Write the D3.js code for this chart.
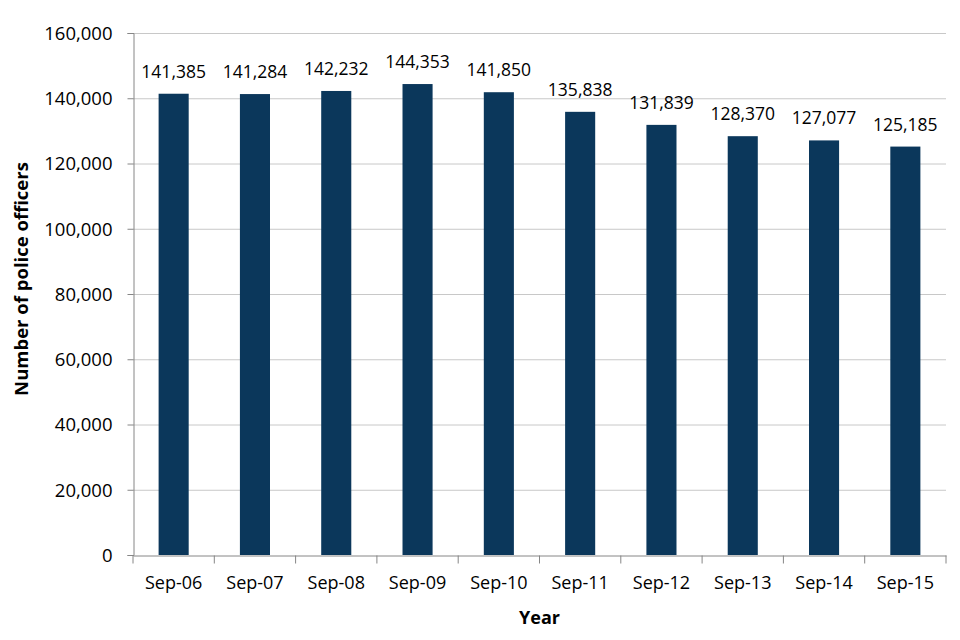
<!DOCTYPE html>
<html>
<head>
<meta charset="utf-8">
<script src="https://cdn.jsdelivr.net/npm/d3@7"></script>
<style>
  body { margin: 0; background: #fff; }
  text { font-family: "Open Sans", "Liberation Sans", sans-serif; fill: #000; }
</style>
</head>
<body>
<svg id="chart" width="960" height="640"></svg>
<script>
const years = ["Sep-06", "Sep-07", "Sep-08", "Sep-09", "Sep-10", "Sep-11", "Sep-12", "Sep-13", "Sep-14", "Sep-15"];
const officers = [141385, 141284, 142232, 144353, 141850, 135838, 131839, 128370, 127077, 125185];
const yTicks = [0, 20000, 40000, 60000, 80000, 100000, 120000, 140000, 160000];

const margin = { top: 33, right: 14, bottom: 85, left: 133 };
const width = 960, height = 640;

const svg = d3.select("svg#chart");
const fmt = d3.format(",");

// SCALES
const xScale = d3.scaleBand()
    .domain(years)
    .range([margin.left, width - margin.right])
    .paddingInner(0.63)
    .paddingOuter(0.315);

const xBound = d3.scaleBand()
    .domain(years)
    .range([margin.left, width - margin.right]);

const yScale = d3.scaleLinear()
    .domain([0, 160000])
    .range([height - margin.bottom, margin.top]);

// GRID
svg.append("g")
    .selectAll("line")
    .data(yTicks.slice(1))
    .join("line")
    .attr("x1", margin.left)
    .attr("x2", width - margin.right)
    .attr("y1", d => yScale(d) + 0.5)
    .attr("y2", d => yScale(d) + 0.5)
    .attr("stroke", "#c8c8c8");

// BARS
svg.append("g").attr("fill", "#0b375b")
    .selectAll("rect")
    .data(officers)
    .join("rect")
    .attr("x", (d, i) => xScale(years[i]))
    .attr("y", d => yScale(d))
    .attr("width", xScale.bandwidth())
    .attr("height", d => yScale(0) - yScale(d));

// DATA LABELS
svg.append("g")
    .selectAll("text")
    .data(officers)
    .join("text")
    .attr("x", (d, i) => xScale(years[i]) + xScale.bandwidth() / 2)
    .attr("y", d => yScale(d) - 16)
    .attr("text-anchor", "middle")
    .attr("font-size", 17.5)
    .text(d => fmt(d));

// AXES
const yAxis = svg.append("g")
    .attr("transform", `translate(${margin.left + 0.5},0)`)
    .call(d3.axisLeft(yScale).tickValues(yTicks).tickFormat(fmt).tickSize(6).tickPadding(15));
yAxis.selectAll("text").attr("font-size", 18.5).attr("dy", "0.35em");

const xAxis = svg.append("g")
    .attr("transform", `translate(0,${height - margin.bottom + 0.5})`)
    .call(d3.axisBottom(xBound).tickSize(0).tickPadding(21));
xAxis.selectAll("text").attr("font-size", 18);
xAxis.selectAll(".tick").append("line")
    .attr("x1", -xBound.bandwidth() / 2).attr("x2", -xBound.bandwidth() / 2)
    .attr("y2", 8).attr("stroke", "#868686");
xAxis.append("line")
    .attr("x1", width - margin.right).attr("x2", width - margin.right)
    .attr("y2", 8).attr("stroke", "#868686");

svg.selectAll(".domain").attr("stroke", "#868686");
yAxis.selectAll(".tick line").attr("stroke", "#868686");

// AXIS TITLES
svg.append("text")
    .attr("x", (margin.left + width - margin.right) / 2)
    .attr("y", 624)
    .attr("text-anchor", "middle")
    .attr("font-size", 18)
    .attr("font-weight", "bold")
    .text("Year");

svg.append("text")
    .attr("transform", `translate(28,${(margin.top + height - margin.bottom) / 2 - 15}) rotate(-90)`)
    .attr("text-anchor", "middle")
    .attr("font-size", 18.5)
    .attr("font-weight", "bold")
    .text("Number of police officers");
</script>
</body>
</html>
